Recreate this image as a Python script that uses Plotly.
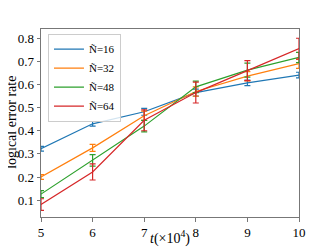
import plotly.graph_objects as go

t = [5, 6, 7, 8, 9, 10]
labels = ["Ñ=16", "Ñ=32", "Ñ=48", "Ñ=64"]
colors = ["#1f77b4", "#ff7f0e", "#2ca02c", "#d62728"]
rate_16 = [0.322, 0.430, 0.482, 0.565, 0.607, 0.641]
rate_32 = [0.200, 0.326, 0.465, 0.570, 0.636, 0.690]
rate_48 = [0.126, 0.272, 0.420, 0.590, 0.662, 0.717]
rate_64 = [0.081, 0.222, 0.445, 0.565, 0.660, 0.755]
err_16 = [0.010, 0.010, 0.015, 0.015, 0.012, 0.012]
err_32 = [0.010, 0.015, 0.020, 0.020, 0.020, 0.020]
err_48 = [0.015, 0.025, 0.025, 0.025, 0.030, 0.022]
err_64 = [0.025, 0.035, 0.045, 0.045, 0.043, 0.045]

series = [rate_16, rate_32, rate_48, rate_64]
errors = [err_16, err_32, err_48, err_64]

fig = go.Figure()
for lab, col, y, e in zip(labels, colors, series, errors):
    fig.add_trace(go.Scatter(
        x=t, y=y, mode="lines", name=lab,
        line=dict(color=col, width=1.2),
        error_y=dict(type="data", array=e, visible=True, color=col,
                     thickness=1.2, width=3),
    ))

font = "Liberation Serif"
fig.update_layout(
    width=324, height=241,
    margin=dict(l=33, r=33, t=21, b=32, autoexpand=False),
    paper_bgcolor="white", plot_bgcolor="white",
    font=dict(family=font, size=13, color="black"),
    showlegend=True,
    legend=dict(x=0.027, y=0.975, xanchor="left", yanchor="top",
                bgcolor="rgba(255,255,255,0.8)", bordercolor="#cccccc",
                borderwidth=1, font=dict(size=11, family=font),
                itemwidth=30, tracegroupgap=0),
    xaxis=dict(range=[5, 10], tickvals=t, ticktext=[str(v) for v in t],
               automargin=False,
               showgrid=False, zeroline=False, showline=True, mirror=True,
               linecolor="#777777", linewidth=1, ticks="outside", ticklen=3.5,
               tickcolor="#777777", tickfont=dict(size=13, family=font)),
    yaxis=dict(range=[0.027, 0.84], tickvals=[0.1, 0.2, 0.3, 0.4, 0.5, 0.6, 0.7, 0.8],
               automargin=False,
               showgrid=False, zeroline=False, showline=True, mirror=True,
               linecolor="#777777", linewidth=1, ticks="outside", ticklen=3.5,
               tickcolor="#777777", tickfont=dict(size=13, family=font)),
    annotations=[
        dict(text="<i>t</i>(×10<sup>4</sup>)", xref="paper", yref="paper",
             x=0.5, y=-0.108, xanchor="center", yanchor="middle",
             showarrow=False, font=dict(size=14, family=font)),
        dict(text="logical error rate", xref="paper", yref="paper",
             x=-0.117, y=0.505, xanchor="center", yanchor="middle",
             textangle=-90, showarrow=False, font=dict(size=14, family=font)),
    ],
)
fig.write_html("out.html")
